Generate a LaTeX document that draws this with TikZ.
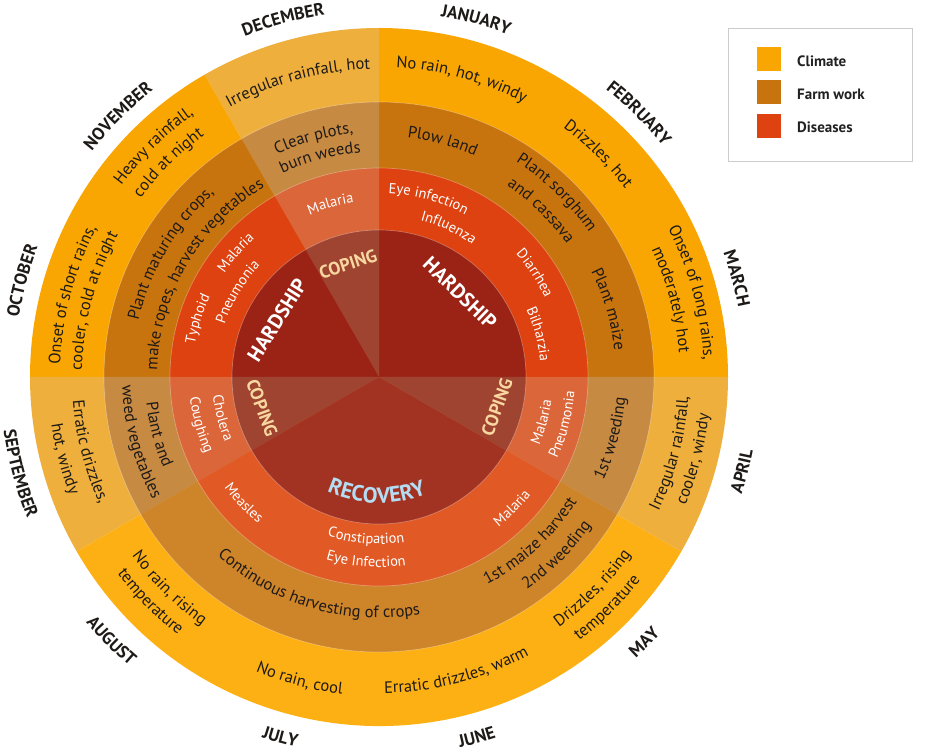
\documentclass[tikz,border=0pt]{standalone}
\usepackage{fontspec}
\setmainfont{PT Sans}
\usetikzlibrary{decorations.text,shadows}
\definecolor{clH}{HTML}{F9A602}
\definecolor{clC}{HTML}{EEAF3C}
\definecolor{clR}{HTML}{FDB013}
\definecolor{fwH}{HTML}{C8740E}
\definecolor{fwC}{HTML}{C78A42}
\definecolor{fwR}{HTML}{CE8429}
\definecolor{dsH}{HTML}{DD4210}
\definecolor{dsC}{HTML}{DB663A}
\definecolor{dsR}{HTML}{E15A26}
\definecolor{pH}{HTML}{9A2316}
\definecolor{pC}{HTML}{A04432}
\definecolor{pR}{HTML}{A23322}
\definecolor{ink}{HTML}{1E1A18}
\definecolor{copetxt}{HTML}{F8D8A0}
\definecolor{rectxt}{HTML}{B4DCF2}
\definecolor{legtxt}{HTML}{222222}
\newcommand\fring{\fontsize{16.5}{19}\selectfont}
\newcommand\fdis{\fontsize{14.5}{17}\selectfont}
\newcommand\fmon{\bfseries\fontsize{17.5}{20}\selectfont}
\newcommand\cl{\color{ink}\fring}
\newcommand\ds{\color{white}\fdis}
\newcommand\mo{\color{ink}\fmon}
\newcommand\slice[4]{\fill[#4] (0,0) -- (#1:#3) arc[start angle=#1,end angle=#2,radius=#3] -- cycle;}
\newcommand\cwtext[4]{\path[decorate,decoration={text along path,text align=center,text={|#3|#4}}] ({#1+80}:#2pt) arc[start angle={#1+80},end angle={#1-80},radius=#2pt];}
\newcommand\ccwtext[4]{\path[decorate,decoration={text along path,text align=center,text={|#3|#4}}] ({#1-80}:#2pt) arc[start angle={#1-80},end angle={#1+80},radius=#2pt];}
\tikzset{
  pielab/.style={font=\bfseries\fontsize{20.5}{24}\selectfont,inner sep=0pt},
  copelab/.style={font=\bfseries\fontsize{18}{22}\selectfont,inner sep=0pt,text=copetxt},
  legsq/.style={minimum size=24pt,inner sep=0pt,anchor=north west},
  legtext/.style={font=\bfseries\fontsize{15}{18}\selectfont,text=legtxt,anchor=west,inner sep=0pt}
}
\begin{document}
\begin{tikzpicture}[x=1pt,y=1pt]
\useasboundingbox (-379,-375) rectangle (555,377);
\fill[white] (-379,-375) rectangle (555,377);
% climate ring
\slice{0}{90}{349pt}{clH}
\slice{90}{120}{349pt}{clC}
\slice{120}{180}{349pt}{clH}
\slice{180}{210}{349pt}{clC}
\slice{210}{330}{349pt}{clR}
\slice{330}{360}{349pt}{clC}
% farm work ring
\slice{0}{90}{275pt}{fwH}
\slice{90}{120}{275pt}{fwC}
\slice{120}{180}{275pt}{fwH}
\slice{180}{210}{275pt}{fwC}
\slice{210}{330}{275pt}{fwR}
\slice{330}{360}{275pt}{fwC}
% disease ring
\slice{0}{90}{209pt}{dsH}
\slice{90}{120}{209pt}{dsC}
\slice{120}{180}{209pt}{dsH}
\slice{180}{210}{209pt}{dsC}
\slice{210}{330}{209pt}{dsR}
\slice{330}{360}{209pt}{dsC}
% inner pie
\slice{0}{90}{147pt}{pH}
\slice{90}{120}{147pt}{pC}
\slice{120}{180}{147pt}{pH}
\slice{180}{210}{147pt}{pC}
\slice{210}{330}{147pt}{pR}
\slice{330}{360}{147pt}{pC}
\foreach \r in {275,209,147}{\draw[white,opacity=.3,line width=.7pt] (0,0) circle[radius=\r pt];}
% climate texts
\cwtext{105.3}{308}{\cl}{Irregular rainfall, hot}
\cwtext{74.5}{310}{\cl}{No rain, hot, windy}
\cwtext{45.5}{310}{\cl}{Drizzles, hot}
\cwtext{15.1}{325}{\cl}{Onset of long rains,}
\cwtext{14.9}{301}{\cl}{moderately hot}
\ccwtext{-14.6}{310}{\cl}{Irregular rainfall,}
\ccwtext{-14.6}{332}{\cl}{cooler, windy}
\ccwtext{-44.7}{308}{\cl}{Drizzles, rising}
\ccwtext{-45.3}{331}{\cl}{temperature}
\ccwtext{-75.3}{316}{\cl}{Erratic drizzles, warm}
\ccwtext{-104.7}{319}{\cl}{No rain, cool}
\ccwtext{-134.8}{305}{\cl}{No rain, rising}
\ccwtext{-135.5}{327}{\cl}{temperature}
\ccwtext{-165.6}{307}{\cl}{Erratic drizzles,}
\ccwtext{-165.4}{331}{\cl}{hot, windy}
\cwtext{165}{319}{\cl}{Onset of short rains,}
\cwtext{165.1}{297}{\cl}{cooler, cold at night}
\cwtext{134.3}{321}{\cl}{Heavy rainfall,}
\cwtext{134.5}{298}{\cl}{cold at night}
% farm texts
\cwtext{105.3}{245}{\cl}{Clear plots,}
\cwtext{105}{225}{\cl}{burn weeds}
\cwtext{74.9}{241}{\cl}{Plow land}
\cwtext{46}{255}{\cl}{Plant sorghum}
\cwtext{45.7}{230}{\cl}{and cassava}
\cwtext{16.5}{237}{\cl}{Plant maize}
\ccwtext{-14.8}{247}{\cl}{1st weeding}
\ccwtext{-47.3}{234}{\cl}{1st maize harvest}
\ccwtext{-45.1}{259}{\cl}{2nd weeding}
\ccwtext{-106.1}{241}{\cl}{Continuous harvesting of crops}
\ccwtext{-165.4}{234}{\cl}{Plant and}
\ccwtext{-164.8}{257}{\cl}{weed vegetables}
\cwtext{149.3}{247}{\cl}{Plant maturing crops,}
\cwtext{149.6}{222}{\cl}{make ropes, harvest vegetables}
% disease texts
\cwtext{105.7}{176}{\ds}{Malaria}
\cwtext{74.5}{184}{\ds}{Eye infection}
\cwtext{65}{162}{\ds}{Influenza}
\cwtext{33.7}{184}{\ds}{Diarrhea}
\cwtext{15.1}{162}{\ds}{Bilharzia}
\ccwtext{-15.4}{174}{\ds}{Malaria}
\ccwtext{-14.5}{196}{\ds}{Pneumonia}
\ccwtext{-44.6}{192}{\ds}{Malaria}
\ccwtext{-94.6}{167}{\ds}{Constipation}
\ccwtext{-94}{190}{\ds}{Eye Infection}
\ccwtext{-137}{190}{\ds}{Measles}
\ccwtext{-165.4}{167}{\ds}{Cholera}
\ccwtext{-165}{190}{\ds}{Coughing}
\cwtext{162.2}{187}{\ds}{Typhoid}
\cwtext{139}{186}{\ds}{Malaria}
\cwtext{149}{163}{\ds}{Pneumonia}
% month labels
\cwtext{105}{366}{\mo}{DECEMBER}
\cwtext{74.8}{366}{\mo}{JANUARY}
\cwtext{45.4}{366}{\mo}{FEBRUARY}
\cwtext{15.4}{366}{\mo}{MARCH}
\ccwtext{-14.5}{381}{\mo}{APRIL}
\ccwtext{-45}{381}{\mo}{MAY}
\ccwtext{-74.8}{379}{\mo}{JUNE}
\ccwtext{-105.3}{379}{\mo}{JULY}
\ccwtext{-135.4}{382}{\mo}{AUGUST}
\ccwtext{-165}{379}{\mo}{SEPTEMBER}
\cwtext{164.9}{365}{\mo}{OCTOBER}
\cwtext{135}{365}{\mo}{NOVEMBER}
% pie labels
\node[pielab,text=white,rotate=-44] (hardR) at (81,84) {HARDSHIP};
\node[pielab,text=white,rotate=58] (hardL) at (-102,57) {HARDSHIP};
\node[copelab,rotate=18] (copeT) at (-31,113) {COPING};
\node[copelab,rotate=70] (copeR) at (118,-30) {COPING};
\node[copelab,rotate=-70] (copeL) at (-117,-31) {COPING};
\ccwtext{-91}{126}{\color{rectxt}\bfseries\fontsize{22}{26}\selectfont}{RECOVERY}
% legend
\node[draw=black!20,fill=white,minimum width=184pt,minimum height=133pt,inner sep=0pt,anchor=north west,
  drop shadow={shadow xshift=1pt,shadow yshift=-1pt,opacity=.15}] (legbox) at (349,349) {};
\node[legsq,fill=clH] (sqC) at (378,330) {};
\node[legsq,fill=fwH] (sqF) at (378,297) {};
\node[legsq,fill=dsH] (sqD) at (378,263) {};
\node[legtext] (lgC) at (418,316) {Climate};
\node[legtext] (lgF) at (418,283) {Farm work};
\node[legtext] (lgD) at (418,250) {Diseases};
\end{tikzpicture}
\end{document}
